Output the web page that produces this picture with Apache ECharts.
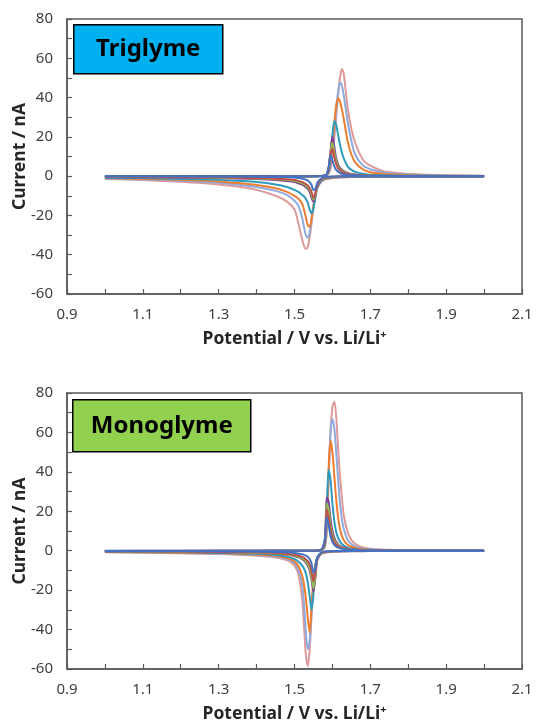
<!DOCTYPE html>
<html>
<head>
<meta charset="utf-8">
<script src="https://cdn.jsdelivr.net/npm/echarts@6/dist/echarts.min.js"></script>
<style>
  html, body { margin: 0; padding: 0; background: #fff; }
  #main { width: 536px; height: 724px; }
</style>
</head>
<body>
<div id="main"></div>
<script>
// potential grids (V vs. Li/Li+), cathodic sweep 2.0 -> 1.0, anodic sweep 1.0 -> 2.0
var cathodicPotential = [2.00, 1.80, 1.70, 1.65, 1.62, 1.60, 1.58, 1.57, 1.56, 1.555, 1.55, 1.545, 1.54, 1.535, 1.53, 1.525, 1.52, 1.51, 1.50, 1.48, 1.45, 1.40, 1.35, 1.30, 1.20, 1.10, 1.00];
var anodicPotential = [1.00, 1.20, 1.40, 1.50, 1.55, 1.57, 1.58, 1.585, 1.59, 1.595, 1.60, 1.605, 1.61, 1.615, 1.62, 1.625, 1.63, 1.64, 1.65, 1.66, 1.68, 1.70, 1.73, 1.76, 1.80, 1.90, 2.00];

// curves, fastest scan first: pink, light blue, orange, teal, purple, green, red, blue
var curveColors = ['#DD9A9A', '#8FAADC', '#ED7D31', '#2E9BBE', '#7F3F98', '#8DBB4F', '#C0504D', '#4472C4'];

// Triglyme currents (nA)
var triCathodic = [
  [0, -0.2, -0.3, -0.5, -0.7, -1.0, -1.8, -3, -6, -10, -16, -24, -31, -36, -37, -35.5, -32, -24, -17, -13, -10, -7, -5.3, -4.2, -2.9, -2, -1.4],
  [0, -0.2, -0.3, -0.4, -0.6, -0.9, -1.6, -2.6, -5, -9, -15, -22, -28.5, -31.4, -30, -26, -21, -15, -12.5, -9.5, -7.5, -5.5, -4.3, -3.4, -2.4, -1.7, -1.2],
  [0, -0.1, -0.2, -0.3, -0.5, -0.8, -1.4, -2.4, -5, -9, -15, -21.5, -25.8, -25, -21, -17, -14, -11.5, -10, -8, -6.2, -4.5, -3.5, -2.7, -1.9, -1.4, -1],
  [0, -0.1, -0.2, -0.3, -0.4, -0.6, -1.2, -2.5, -6, -11, -16.5, -19, -17, -13.5, -11.5, -10.3, -9.5, -8, -7, -5.5, -4.2, -3, -2.4, -1.9, -1.4, -1, -0.8],
  [0, 0, -0.1, -0.2, -0.3, -0.5, -1, -2, -5.5, -10, -13, -11, -8, -6.5, -5.5, -4.8, -4.3, -3.6, -3, -2.5, -2, -1.5, -1.2, -1, -0.8, -0.6, -0.5],
  [0, 0, -0.1, -0.2, -0.3, -0.4, -0.9, -1.8, -5, -9.5, -12, -9.5, -7, -5.6, -4.7, -4.1, -3.6, -3, -2.5, -2, -1.6, -1.2, -1, -0.8, -0.6, -0.5, -0.4],
  [0, 0, -0.1, -0.1, -0.2, -0.3, -0.8, -1.6, -4.5, -9, -11, -8, -6, -4.7, -4, -3.4, -3, -2.4, -2, -1.6, -1.3, -1, -0.8, -0.6, -0.5, -0.4, -0.3],
  [0, 0, 0, -0.1, -0.1, -0.2, -0.5, -1.2, -3.5, -6.5, -7, -4.5, -3, -2.3, -1.8, -1.5, -1.2, -0.9, -0.7, -0.5, -0.4, -0.3, -0.2, -0.2, -0.1, -0.1, -0.1]
];
var triAnodic = [
  [-0.5, -0.3, -0.2, -0.1, 0, 0.1, 0.2, 0.5, 1.5, 4, 10, 19, 30, 41, 50, 54.5, 52, 35, 24, 17, 8.5, 5.3, 2.8, 1.8, 1.1, 0.4, 0.2],
  [-0.4, -0.3, -0.2, -0.1, 0, 0.1, 0.2, 0.5, 1.5, 4.5, 12, 23, 34, 43, 47.7, 46, 41, 28, 18, 11, 5.5, 3.5, 2, 1.3, 0.8, 0.3, 0.1],
  [-0.3, -0.2, -0.1, 0, 0, 0.1, 0.2, 0.6, 2, 6, 15, 27, 36, 39.5, 38, 34, 29, 18, 11, 7, 3.5, 2, 1.2, 0.8, 0.5, 0.2, 0.1],
  [-0.2, -0.1, -0.1, 0, 0, 0.1, 0.2, 0.7, 2.5, 9, 21, 28, 26, 21, 16, 12, 9, 5, 3.2, 2.2, 1.2, 0.7, 0.4, 0.3, 0.2, 0.1, 0],
  [-0.1, -0.1, 0, 0, 0, 0.1, 0.3, 1, 4, 13, 20, 15, 9, 6, 4.2, 3.2, 2.5, 1.6, 1.1, 0.8, 0.4, 0.3, 0.2, 0.1, 0.1, 0, 0],
  [-0.1, -0.1, 0, 0, 0, 0.1, 0.3, 1, 4, 12, 17, 12, 7.5, 5, 3.5, 2.7, 2.1, 1.4, 1, 0.7, 0.4, 0.3, 0.2, 0.1, 0.1, 0, 0],
  [-0.1, 0, 0, 0, 0, 0.1, 0.3, 1, 4, 11, 14, 9.5, 6, 4, 2.9, 2.2, 1.8, 1.2, 0.8, 0.6, 0.3, 0.2, 0.1, 0.1, 0, 0, 0],
  [0, 0, 0, 0, 0, 0.1, 0.3, 1, 4.5, 10.7, 8, 5, 3.2, 2.2, 1.6, 1.2, 1, 0.7, 0.5, 0.4, 0.2, 0.1, 0.1, 0, 0, 0, 0]
];

// Monoglyme currents (nA)
var monoCathodic = [
  [0, -0.1, -0.2, -0.3, -0.4, -0.6, -1, -1.7, -4, -8, -17, -33, -50, -58.6, -53, -38, -24, -12, -7.5, -4.8, -3.4, -2.5, -2, -1.7, -1.3, -1, -0.8],
  [0, -0.1, -0.2, -0.3, -0.4, -0.5, -0.9, -1.5, -3.7, -7.5, -16, -30, -46, -50, -41, -27, -17, -9.5, -6.3, -4.1, -2.9, -2.2, -1.8, -1.5, -1.1, -0.9, -0.7],
  [0, -0.1, -0.1, -0.2, -0.3, -0.4, -0.8, -1.4, -3.5, -7, -15, -28, -41.5, -34, -24, -17, -12.5, -7.8, -5.4, -3.6, -2.6, -1.9, -1.6, -1.3, -1, -0.8, -0.6],
  [0, 0, -0.1, -0.2, -0.2, -0.3, -0.7, -1.3, -3.5, -8, -22, -29.9, -23, -16, -11.5, -9, -7.5, -5.5, -4.3, -3, -2.2, -1.6, -1.3, -1.1, -0.8, -0.6, -0.5],
  [0, 0, -0.1, -0.1, -0.2, -0.3, -0.6, -1.3, -5, -14, -20.6, -15, -10, -7.5, -6, -5, -4.3, -3.4, -2.8, -2.1, -1.6, -1.2, -1, -0.8, -0.6, -0.5, -0.4],
  [0, 0, -0.1, -0.1, -0.2, -0.3, -0.6, -1.2, -4.5, -13, -19, -13.5, -9, -6.8, -5.4, -4.5, -3.9, -3.1, -2.5, -1.9, -1.4, -1.1, -0.9, -0.7, -0.5, -0.4, -0.3],
  [0, 0, 0, -0.1, -0.1, -0.2, -0.5, -1.1, -4, -11, -15.5, -10.5, -7, -5.3, -4.3, -3.6, -3.1, -2.5, -2, -1.5, -1.1, -0.9, -0.7, -0.6, -0.4, -0.3, -0.3],
  [0, 0, 0, -0.1, -0.1, -0.2, -0.4, -0.9, -3.5, -9, -11, -6.5, -4.2, -3.1, -2.5, -2.1, -1.8, -1.4, -1.1, -0.8, -0.6, -0.5, -0.4, -0.3, -0.2, -0.2, -0.1]
];
var monoAnodic = [
  [-0.4, -0.3, -0.2, -0.1, 0, 0.3, 2, 10, 35, 60, 73, 75.7, 68, 52, 38, 27, 18, 9.5, 5.5, 3.5, 1.6, 1, 0.6, 0.4, 0.2, 0.1, 0],
  [-0.3, -0.2, -0.1, 0, 0, 0.3, 2, 11, 38, 60, 66.8, 62, 50, 36, 24, 16, 11, 5.5, 3.3, 2.2, 1.1, 0.7, 0.4, 0.3, 0.1, 0, 0],
  [-0.3, -0.2, -0.1, 0, 0, 0.3, 2.5, 14, 42, 55.9, 50, 38, 26, 17, 11, 7.5, 5.3, 3, 2, 1.4, 0.7, 0.4, 0.3, 0.2, 0.1, 0, 0],
  [-0.2, -0.1, -0.1, 0, 0, 0.3, 3, 20, 41, 36, 24, 15, 9.5, 6.5, 4.6, 3.4, 2.6, 1.6, 1, 0.7, 0.4, 0.2, 0.1, 0.1, 0, 0, 0],
  [-0.1, -0.1, 0, 0, 0, 0.4, 5, 27, 25, 16, 10, 6.5, 4.5, 3.2, 2.4, 1.9, 1.5, 1, 0.7, 0.5, 0.3, 0.2, 0.1, 0, 0, 0, 0],
  [-0.1, -0.1, 0, 0, 0, 0.4, 5, 24, 21, 13, 8, 5.3, 3.7, 2.7, 2, 1.6, 1.3, 0.9, 0.6, 0.4, 0.2, 0.1, 0.1, 0, 0, 0, 0],
  [-0.1, 0, 0, 0, 0, 0.4, 5, 21, 17, 10.5, 6.5, 4.3, 3, 2.2, 1.7, 1.3, 1.1, 0.7, 0.5, 0.3, 0.2, 0.1, 0, 0, 0, 0, 0],
  [0, 0, 0, 0, 0, 0.5, 6, 17, 13, 7.5, 4.5, 3, 2.1, 1.6, 1.2, 1, 0.8, 0.5, 0.4, 0.3, 0.1, 0.1, 0, 0, 0, 0, 0]
];

var xTicks = { min: 0.9, max: 2.1, step: 0.1 };
var yTicks = { min: -60, max: 80, step: 20 };
var panelLabels = ['Triglyme', 'Monoglyme'];

var axisColor = '#595959';
var labelColor = '#404040';
var fontFamily = '"Noto Sans", "Open Sans", sans-serif';

function makeXAxis(gridIndex) {
  return {
    type: 'value', gridIndex: gridIndex,
    min: xTicks.min, max: xTicks.max, interval: xTicks.step,
    name: 'Potential / V vs. Li/Li{sup|+}',
    nameLocation: 'middle', nameGap: 35,
    nameTextStyle: {
      fontFamily: fontFamily, fontSize: 17.5, fontWeight: 'bold', color: '#262626',
      rich: { sup: { fontFamily: fontFamily, fontSize: 11, fontWeight: 'bold', color: '#262626', padding: [0, 0, 9, 0] } }
    },
    axisLine: { show: true, onZero: false, lineStyle: { color: axisColor, width: 1.5 } },
    axisTick: { show: true, inside: true, length: 5, lineStyle: { color: axisColor, width: 1.2 } },
    splitLine: { show: false },
    axisLabel: {
      margin: 13, fontFamily: fontFamily, fontSize: 15, color: labelColor,
      formatter: function (v) {
        var k = Math.round(v * 10);
        return (k % 2 === 1) ? (k / 10).toFixed(1) : '';
      }
    }
  };
}

function makeYAxis(gridIndex) {
  return {
    type: 'value', gridIndex: gridIndex,
    min: yTicks.min, max: yTicks.max, interval: yTicks.step,
    name: 'Current / nA',
    nameLocation: 'middle', nameGap: 38, nameMoveOverlap: false,
    nameTextStyle: { fontFamily: fontFamily, fontSize: 17.5, fontWeight: 'bold', color: '#262626' },
    axisLine: { show: true, onZero: false, lineStyle: { color: axisColor, width: 1.5 } },
    axisTick: { show: true, inside: true, length: 5, lineStyle: { color: axisColor, width: 1.2 } },
    minorTick: { show: true, splitNumber: 2, length: 5, lineStyle: { color: axisColor, width: 1.2 } },
    splitLine: { show: false },
    axisLabel: { margin: 14, fontFamily: fontFamily, fontSize: 15, color: labelColor }
  };
}

function pairUp(potentials, currents) {
  return potentials.map(function (e, i) { return [e, currents[i]]; });
}

var series = [];
[[triCathodic, triAnodic], [monoCathodic, monoAnodic]].forEach(function (panel, p) {
  for (var i = 0; i < curveColors.length; i++) {
    [[cathodicPotential, panel[0][i]], [anodicPotential, panel[1][i]]].forEach(function (branch) {
      series.push({
        type: 'line',
        xAxisIndex: p, yAxisIndex: p,
        data: pairUp(branch[0], branch[1]),
        showSymbol: false,
        smooth: 0.3,
        z: 2 + i,
        lineStyle: { color: curveColors[i], width: 2, join: 'round' },
        itemStyle: { color: curveColors[i] }
      });
    });
  }
});

function panelTag(text, x, y, w, h, fill) {
  return {
    type: 'group', left: x, top: y,
    children: [
      { type: 'rect', shape: { x: 0, y: 0, width: w, height: h }, style: { fill: fill, stroke: '#000', lineWidth: 1.5 } },
      { type: 'text', x: w / 2, y: h / 2, style: { text: text, fill: '#000', font: 'bold 24px "Noto Sans", sans-serif', textAlign: 'center', textVerticalAlign: 'middle' } }
    ]
  };
}

var chart = echarts.init(document.getElementById('main'), null, { renderer: 'canvas' });
chart.setOption({
  animation: false,
  backgroundColor: '#fff',
  grid: [
    { left: 67, top: 19, width: 455, height: 275, outerBoundsMode: 'none', containLabel: false, show: true, borderColor: axisColor, borderWidth: 1.5, backgroundColor: 'transparent' },
    { left: 67, top: 393, width: 455, height: 276, outerBoundsMode: 'none', containLabel: false, show: true, borderColor: axisColor, borderWidth: 1.5, backgroundColor: 'transparent' }
  ],
  xAxis: [makeXAxis(0), makeXAxis(1)],
  yAxis: [makeYAxis(0), makeYAxis(1)],
  series: series,
  graphic: [
    panelTag(panelLabels[0], 73, 24, 149, 49, '#00B0F0'),
    panelTag(panelLabels[1], 72, 399, 178, 52, '#92D050')
  ]
});
</script>
</body>
</html>
